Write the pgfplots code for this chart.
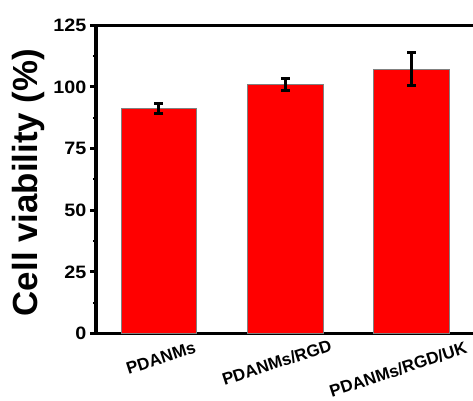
\documentclass[border=0pt]{standalone}
\usepackage{pgfplots}
\pgfplotsset{compat=1.18}
\usepackage{fontspec}
\setmainfont{Liberation Sans}
\newfontfamily\tickfont[FakeStretch=1.1]{Liberation Sans}
\begin{document}
\begin{tikzpicture}
\begin{axis}[
  name=ax,
  scale only axis,
  width=379bp, height=308.2bp,
  xmin=0.5, xmax=3.5,
  ymin=0, ymax=125,
  ytick={0,25,50,75,100,125},
  minor y tick num=1,
  xtick={1,2,3},
  xticklabels={},
  xtick style={draw=none},
  ytick pos=left,
  tick align=outside,
  major tick length=6bp,
  minor tick length=3bp,
  every major tick/.append style={line width=3bp, black},
  every minor tick/.append style={line width=2bp, black},
  axis line style={line width=3.5bp, black},
  /pgf/number format/assume math mode=true,
  yticklabel style={font=\tickfont\bfseries\fontsize{18}{18}\selectfont},
  ylabel={\bfseries Cell viability (\%)},
  ylabel style={font=\bfseries\fontsize{35}{35}\selectfont, at={(axis description cs:-0.1777,0.49)}, anchor=center},
  clip=false,
]
\addplot[ybar, bar width=0.6, fill=red, draw=gray, line width=0.8bp,
  error bars/.cd, y dir=both, y explicit,
  error bar style={line width=3bp, black},
  error mark options={rotate=90, mark size=4.5bp, line width=3bp, black}]
  coordinates {
    (1,91.2) +- (0,1.95)
    (2,100.9) +- (0,2.4)
    (3,107.2) +- (0,6.6)
  };
\coordinate (o) at (rel axis cs:0,0);
\node[xshift=2bp, yshift=-24.5bp, rotate=18, inner sep=0pt, font=\bfseries\fontsize{17}{17}\selectfont] at (axis cs:1,0) {PDANMs};
\node[xshift=-8.5bp, yshift=-29bp, rotate=18, inner sep=0pt, font=\bfseries\fontsize{17}{17}\selectfont] at (axis cs:2,0) {PDANMs/RGD};
\node[xshift=-13.5bp, yshift=-36bp, rotate=18, inner sep=0pt, font=\bfseries\fontsize{17}{17}\selectfont] at (axis cs:3,0) {PDANMs/RGD/UK};
\end{axis}
\pgfresetboundingbox
\path[use as bounding box] ([shift={(-95.8bp,-67.5bp)}]o) rectangle ([shift={(377.2bp,333.5bp)}]o);
\end{tikzpicture}
\end{document}
